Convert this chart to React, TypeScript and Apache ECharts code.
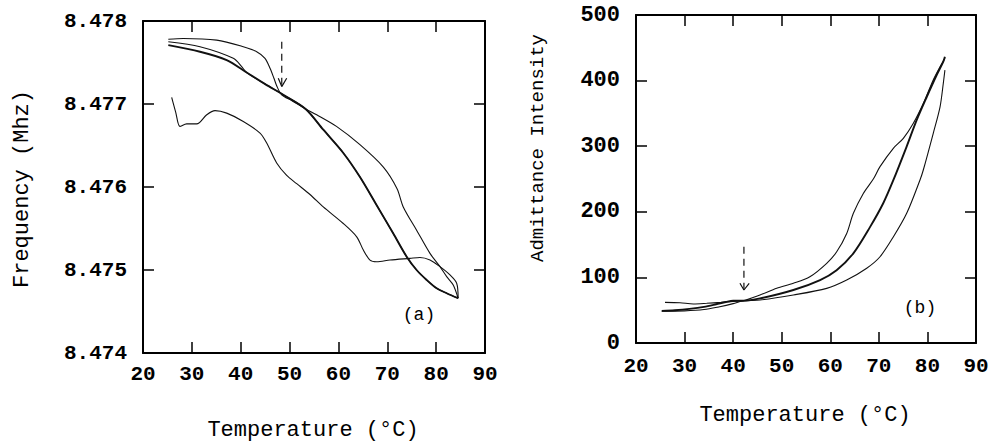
import React, { useEffect, useRef } from "react";
import * as echarts from "echarts";

// ---------- Data (Temperature °C, value) ----------
const tempTicks = [20, 30, 40, 50, 60, 70, 80, 90];
const freqTicks = [8.474, 8.475, 8.476, 8.477, 8.478];
const admTicks = [0, 100, 200, 300, 400, 500];

// Panel (a): Frequency (MHz)
const freqLower: number[][] = [
  [25.87, 8.47708], [26.7, 8.4769], [27.57, 8.47673], [28.94, 8.47676], [30.99, 8.47676],
  [33.04, 8.47687], [34.74, 8.47692], [37.13, 8.47689], [40.53, 8.47679], [43.95, 8.47665],
  [45.32, 8.47653], [47.36, 8.47629], [49.41, 8.47614], [51.46, 8.47604], [54.18, 8.47591],
  [56.9, 8.47576], [61.0, 8.47556], [63.74, 8.4754], [65.1, 8.47524], [66.46, 8.47512],
  [67.83, 8.4751], [70.55, 8.47512], [74.64, 8.47514], [76.69, 8.47515], [78.74, 8.47512],
  [80.79, 8.47504], [82.83, 8.47494], [84.2, 8.47484], [84.5, 8.47466],
];
const freqTop: number[][] = [
  [25.18, 8.47778], [28.25, 8.47779], [35.08, 8.47777], [40.53, 8.47769], [43.27, 8.47763],
  [44.97, 8.47755], [46.0, 8.47743], [46.8, 8.47731], [47.36, 8.47722], [48.38, 8.47711],
  [50.5, 8.47704], [53.28, 8.47694], [55.55, 8.47687], [59.6, 8.47673], [64.4, 8.47651],
  [69.2, 8.47624], [72.0, 8.47598], [73.27, 8.47576], [76.0, 8.47548], [78.74, 8.4752],
  [80.79, 8.47504], [82.16, 8.47492], [83.5, 8.47482], [84.5, 8.47466],
];
const freqMid: number[][] = [
  [25.18, 8.47775], [31.67, 8.47769], [38.48, 8.47755], [40.2, 8.47745], [41.22, 8.47738],
  [45.0, 8.47724], [48.72, 8.47711], [53.28, 8.47694], [56.9, 8.47669], [61.0, 8.47641],
  [64.41, 8.47612], [67.83, 8.47578], [71.23, 8.47544], [73.97, 8.47516], [76.0, 8.475],
  [78.06, 8.47488], [80.1, 8.47478], [82.16, 8.47472], [84.5, 8.47466],
];
const freqThick: number[][] = [
  [25.18, 8.47771], [31.67, 8.47763], [37.13, 8.47753], [41.22, 8.47738],
  [45.0, 8.47724], [48.72, 8.47711], [53.28, 8.47694], [56.9, 8.47669], [61.0, 8.47641],
  [64.41, 8.47612], [67.83, 8.47578], [71.23, 8.47544], [73.97, 8.47516], [76.0, 8.475],
  [78.06, 8.47488], [80.1, 8.47478], [82.16, 8.47472], [84.5, 8.47466],
];
const arrowA: number[][] = [[48.4, 8.47775], [48.4, 8.47722]];
const arrowHeadA: number[][] = [[47.69, 8.47731], [48.4, 8.47721], [49.41, 8.47731]];

// Panel (b): Admittance intensity
const admUpper: number[][] = [
  [25.97, 62], [29.06, 61.4], [31.8, 59.5], [34.55, 60.5], [37.5, 62], [40, 63.5], [42.1, 64.5],
  [45.53, 73.2], [48.97, 83.3], [52.4, 91], [55.8, 101], [59.26, 121.5], [61.32, 139],
  [63.38, 167], [64.75, 197.7], [66.8, 228], [68.86, 250], [70.24, 268.8], [72.98, 296.8],
  [75.04, 312], [77.1, 335], [79.15, 365], [81.2, 401], [82.6, 421], [83.6, 434],
];
const admMiddle: number[][] = [
  [25.3, 49], [28, 50], [31, 52], [34, 55], [36.5, 59], [38.5, 62.5], [40, 64.5], [42.1, 64.5],
  [45.53, 68], [52.4, 80.8], [57.9, 96], [61.3, 111], [64.75, 136.7], [68.2, 177], [70.9, 213],
  [73.0, 248.5], [75.7, 299], [77.8, 340], [79.85, 375], [81.9, 408.5], [83.27, 429], [83.6, 436.5],
];
const admLower: number[][] = [
  [25.3, 48.5], [30, 49], [34, 51], [37, 55], [40, 60], [42.1, 64.5], [45.53, 65.5],
  [52.4, 73.2], [59.26, 83.3], [63.38, 96], [67.5, 114], [70.24, 131.5], [73.0, 162],
  [75.73, 197.7], [78.47, 248.5], [79.15, 263.7], [81.2, 319.7], [82.6, 360], [83.27, 396], [83.6, 416],
];
const arrowB: number[][] = [[42.22, 146.8], [42.22, 81]];
const arrowHeadB: number[][] = [[41.4, 91], [42.22, 80.8], [43.3, 91]];

const MONO = "'Liberation Mono', 'DejaVu Sans Mono', monospace";
const INK = "#111";

function axisCommon(show: boolean, size: number, margin: number) {
  return {
    axisLine: { show: true, onZero: false, lineStyle: { color: "#000", width: 2 } },
    axisTick: { show: true, inside: true, length: 11, lineStyle: { color: "#000", width: 1.5 } },
    axisLabel: {
      show,
      fontFamily: MONO,
      fontSize: size,
      fontWeight: "bold",
      color: "#000",
      margin,
    },
    splitLine: { show: false },
  };
}

function lineSeries(data: number[][], idx: number, width = 1.1, dashed = false, smooth: number | boolean = 0.3) {
  return {
    type: "line",
    xAxisIndex: idx * 2,
    yAxisIndex: idx * 2,
    data,
    symbol: "none",
    smooth,
    lineStyle: { color: INK, width, type: dashed ? [7, 5] : "solid" },
    silent: true,
  };
}

export default function App() {
  const ref = useRef<HTMLDivElement>(null);
  useEffect(() => {
    if (!ref.current) return;
    const chart = echarts.init(ref.current, null, { renderer: "svg" });
    const xBase = (gi: number, show: boolean, margin: number) => ({
      type: "value",
      gridIndex: gi,
      min: tempTicks[0],
      max: tempTicks[tempTicks.length - 1],
      interval: 10,
      position: show ? "bottom" : "top",
      ...axisCommon(show, 21, margin),
    });
    chart.setOption({
      animation: false,
      backgroundColor: "#fff",
      grid: [
        { left: 143, top: 21, width: 342, height: 332 },
        { left: 636, top: 15, width: 340, height: 328 },
      ],
      xAxis: [
        xBase(0, true, 11),
        xBase(0, false, 0),
        xBase(1, true, 13),
        xBase(1, false, 0),
      ],
      yAxis: [
        {
          type: "value", gridIndex: 0, min: freqTicks[0], max: freqTicks[freqTicks.length - 1],
          interval: 0.001, position: "left",
          ...axisCommon(true, 21, 16),
          axisLabel: { ...axisCommon(true, 21, 16).axisLabel, formatter: (v: number) => v.toFixed(3) },
        },
        {
          type: "value", gridIndex: 0, min: freqTicks[0], max: freqTicks[freqTicks.length - 1],
          interval: 0.001, position: "right", ...axisCommon(false, 21, 0),
        },
        {
          type: "value", gridIndex: 1, min: admTicks[0], max: admTicks[admTicks.length - 1],
          interval: 100, position: "left", ...axisCommon(true, 22, 16),
        },
        {
          type: "value", gridIndex: 1, min: admTicks[0], max: admTicks[admTicks.length - 1],
          interval: 100, position: "right", ...axisCommon(false, 22, 0),
        },
      ],
      series: [
        lineSeries(freqLower, 0),
        lineSeries(freqTop, 0),
        lineSeries(freqMid, 0),
        lineSeries(freqThick, 0, 1.9),
        lineSeries(arrowA, 0, 1.2, true, false),
        lineSeries(arrowHeadA, 0, 1.2, false, false),
        lineSeries(admUpper, 1),
        lineSeries(admMiddle, 1, 1.9),
        lineSeries(admLower, 1),
        lineSeries(arrowB, 1, 1.2, true, false),
        lineSeries(arrowHeadB, 1, 1.2, false, false),
      ],
      graphic: [
        {
          type: "text", x: 313, y: 430,
          style: { text: "Temperature (°C)", fontFamily: MONO, fontSize: 22, fill: "#000", align: "center", verticalAlign: "middle" },
        },
        {
          type: "text", x: 805, y: 415,
          style: { text: "Temperature (°C)", fontFamily: MONO, fontSize: 22, fill: "#000", align: "center", verticalAlign: "middle" },
        },
        {
          type: "text", x: 22, y: 189, rotation: Math.PI / 2,
          style: { text: "Frequency (Mhz)", fontFamily: MONO, fontSize: 22, fill: "#000", align: "center", verticalAlign: "middle" },
        },
        {
          type: "text", x: 538, y: 148, rotation: Math.PI / 2,
          style: { text: "Admittance Intensity", fontFamily: MONO, fontSize: 19, fill: "#000", align: "center", verticalAlign: "middle" },
        },
        {
          type: "text", x: 419, y: 315,
          style: { text: "(a)", fontFamily: MONO, fontSize: 18, fill: "#000", align: "center", verticalAlign: "middle" },
        },
        {
          type: "text", x: 920, y: 308,
          style: { text: "(b)", fontFamily: MONO, fontSize: 18, fill: "#000", align: "center", verticalAlign: "middle" },
        },
      ],
    });
    return () => chart.dispose();
  }, []);
  return (
    <div
      ref={ref}
      style={{ position: "fixed", left: 0, top: 0, width: 996, height: 443, background: "#fff" }}
    />
  );
}
